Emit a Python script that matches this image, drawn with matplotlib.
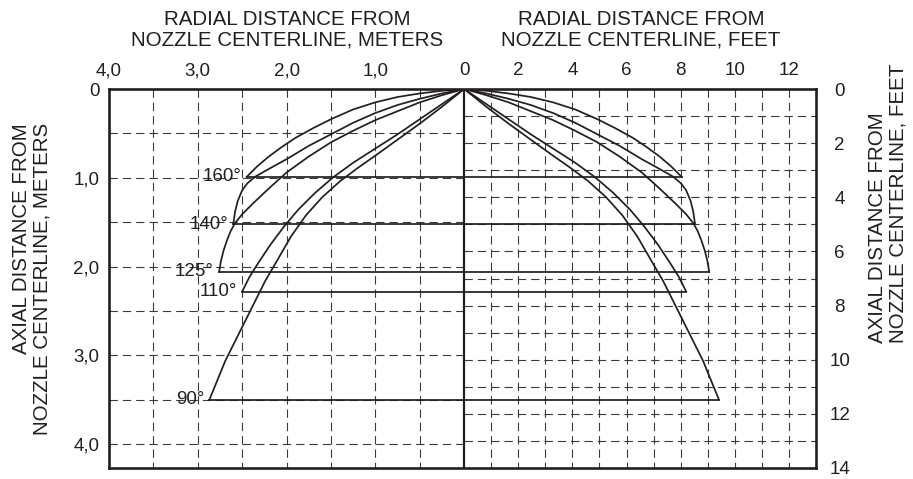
import numpy as np
import matplotlib.pyplot as plt

plt.rcParams['font.family'] = ['Liberation Sans', 'DejaVu Sans']

FT = 0.3048
W, H = 913, 479
ink = '#231f20'

# spray angle curves, read off the left (metric) half, mirrored on the right
# radial distance r (m) and axial distance d (m) from the nozzle
angles = ['160°', '140°', '125°', '110°', '90°']

r160 = [0, 0.25, 0.5, 0.75, 1.0, 1.25, 1.5, 1.7, 1.9, 2.05, 2.2, 2.33, 2.45]
d160 = [0, 0.02, 0.05, 0.09, 0.15, 0.23, 0.34, 0.44, 0.55, 0.65, 0.76, 0.87, 0.99]

r140 = [0, 0.25, 0.5, 0.75, 1.0, 1.25, 1.5, 1.75, 2.0, 2.2, 2.35, 2.44, 2.50, 2.55, 2.58, 2.60]
d140 = [0, 0.05, 0.11, 0.18, 0.27, 0.38, 0.51, 0.64, 0.79, 0.90, 0.985, 1.06, 1.14, 1.26, 1.38, 1.52]

r125 = [0, 0.25, 0.5, 0.75, 1.0, 1.25, 1.5, 1.75, 2.0, 2.2, 2.38, 2.50, 2.58, 2.63, 2.67, 2.71, 2.74, 2.76]
d125 = [0, 0.07, 0.15, 0.25, 0.35, 0.47, 0.60, 0.76, 0.94, 1.12, 1.29, 1.41, 1.51, 1.60, 1.70, 1.82, 1.94, 2.06]

r110 = [0, 0.25, 0.5, 0.75, 1.0, 1.25, 1.47, 1.68, 1.87, 2.03, 2.18, 2.32, 2.42, 2.50]
d110 = [0, 0.17, 0.34, 0.51, 0.67, 0.83, 0.99, 1.17, 1.36, 1.55, 1.75, 1.96, 2.12, 2.28]

r90 = [0, 0.25, 0.5, 0.75, 1.0, 1.2, 1.4, 1.6, 1.78, 1.95, 2.1, 2.24, 2.36, 2.48, 2.59, 2.69, 2.78, 2.87]
d90 = [0, 0.20, 0.39, 0.57, 0.75, 0.89, 1.04, 1.22, 1.42, 1.66, 1.92, 2.16, 2.40, 2.64, 2.86, 3.06, 3.28, 3.50]

curves = [(r160, d160), (r140, d140), (r125, d125), (r110, d110), (r90, d90)]

top_m_ticks = [-4, -3, -2, -1, 0]
top_m_labels = ['4,0', '3,0', '2,0', '1,0', '0']
top_ft_ticks = [2, 4, 6, 8, 10, 12]
left_ticks = [0, 1, 2, 3, 4]
left_labels = ['0', '1,0', '2,0', '3,0', '4,0']
right_ticks = [0, 2, 4, 6, 8, 10, 12, 14]

fig = plt.figure(figsize=(W / 100, H / 100), dpi=100)
ax = fig.add_axes([109 / W, 1 - 468 / H, (816 - 109) / W, (468 - 89) / H])
xmin, xmax = -4.0, 13 * FT
ymax = 14 * FT
ax.set_xlim(xmin, xmax)
ax.set_ylim(ymax, 0)

# dashed grid: 0.5 m on the left half, 1 ft on the right half
gkw = dict(colors='#3a3a3a', linewidth=0.8, linestyles=(0, (7.5, 4.5)), zorder=1)
ax.vlines(np.arange(-3.5, 0, 0.5), 0, ymax, **gkw)
ax.hlines(np.arange(0.5, 4.01, 0.5), xmin, 0, **gkw)
ax.vlines(np.arange(1, 13) * FT, 0, ymax, **gkw)
ax.hlines(np.arange(1, 14) * FT, 0, xmax, **gkw)

ax.axvline(0, color=ink, linewidth=1.6, zorder=3)

for (r, d), lab in zip(curves, angles):
    r = np.array(r)
    ax.plot(-r, d, color=ink, linewidth=1.25, zorder=4, solid_joinstyle='round')
    ax.plot(r, d, color=ink, linewidth=1.25, zorder=4, solid_joinstyle='round')
    ax.plot([-r[-1], r[-1]], [d[-1], d[-1]], color=ink, linewidth=1.25, zorder=4)
    ax.text(-r[-1] - 0.06, d[-1], lab, ha='right', va='center', fontsize=13.5, color=ink, zorder=5)

for s in ax.spines.values():
    s.set_linewidth(1.9)
    s.set_color(ink)

ax.xaxis.tick_top()
ax.set_xticks(top_m_ticks + [t * FT for t in top_ft_ticks])
ax.set_xticklabels(top_m_labels + [str(t) for t in top_ft_ticks])
ax.set_yticks(left_ticks)
ax.set_yticklabels(left_labels)
ax.tick_params(axis='x', length=0, pad=7, labelsize=13.5, labelcolor=ink)
ax.tick_params(axis='y', length=0, pad=7, labelsize=13.5, labelcolor=ink)

ax2 = ax.twinx()
ax2.set_ylim(14, 0)
ax2.set_yticks(right_ticks)
ax2.tick_params(axis='y', length=0, pad=17, labelsize=13.5, labelcolor=ink)
for lbl in ax2.get_yticklabels():
    lbl.set_horizontalalignment('center')
for s in ax2.spines.values():
    s.set_visible(False)

tkw = dict(fontsize=14.8, color=ink, linespacing=1.12)
fig.text(287 / W, 1 - 30 / H, 'RADIAL DISTANCE FROM\nNOZZLE CENTERLINE, METERS',
         ha='center', va='center', **tkw)
fig.text(641 / W, 1 - 30 / H, 'RADIAL DISTANCE FROM\nNOZZLE CENTERLINE, FEET',
         ha='center', va='center', **tkw)
fig.text(32 / W, 1 - 123 / H, 'AXIAL DISTANCE FROM\nNOZZLE CENTERLINE, METERS',
         ha='center', va='top', rotation=90, multialignment='right', **tkw)
fig.text(888 / W, 1 - 343 / H, 'AXIAL DISTANCE FROM\nNOZZLE CENTERLINE, FEET',
         ha='center', va='bottom', rotation=90, multialignment='left', **tkw)

fig.savefig('out.png', dpi=100)
